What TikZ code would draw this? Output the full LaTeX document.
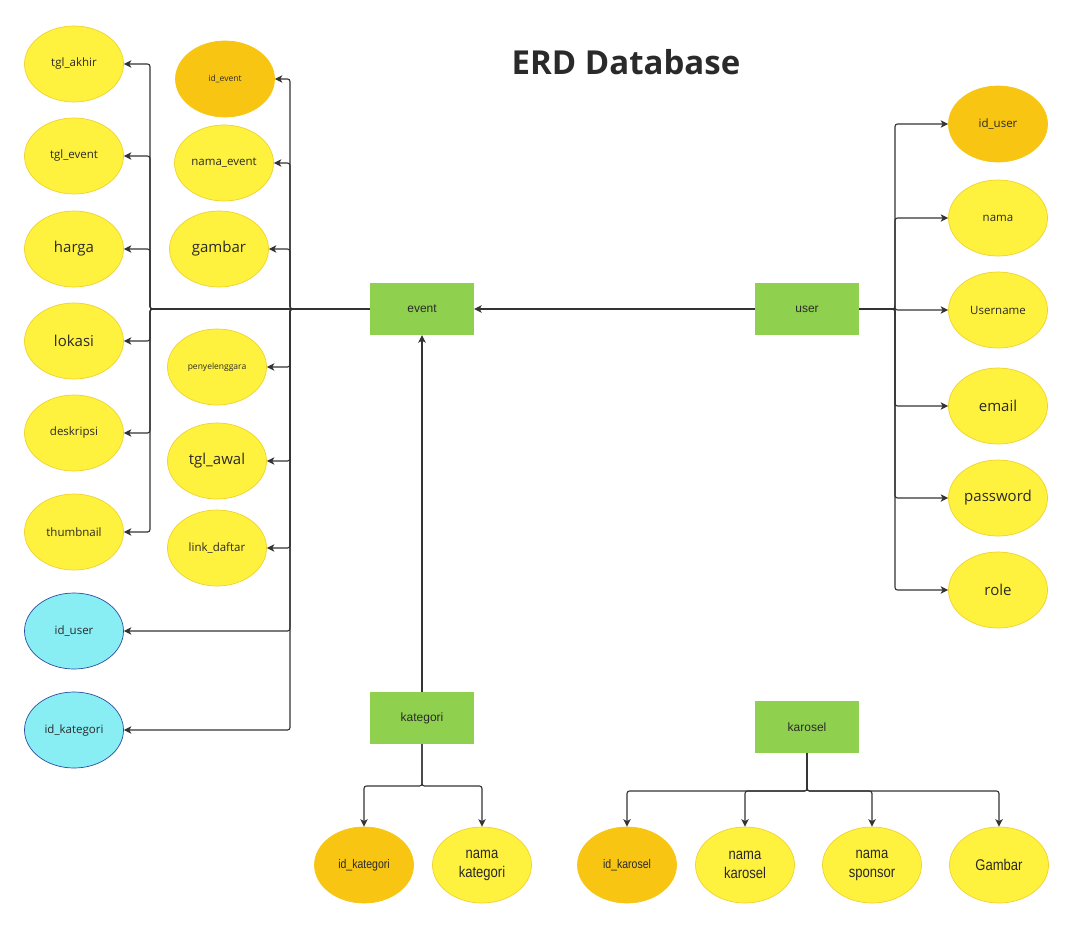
\documentclass[tikz,border=0pt]{standalone}
\usepackage{fontspec}
\setmainfont{Open Sans}
\newfontfamily\arialf{Liberation Sans}
\newfontfamily\narrowf[FakeStretch=0.84]{Liberation Sans}
\usetikzlibrary{shapes.geometric,arrows.meta}
\definecolor{attrfill}{HTML}{FFF23F}
\definecolor{attrline}{HTML}{EFD22A}
\definecolor{pkfill}{HTML}{F8C513}
\definecolor{fkfill}{HTML}{88EEF4}
\definecolor{fkline}{HTML}{2C4DA0}
\definecolor{entfill}{HTML}{8FD14F}
\definecolor{linec}{HTML}{333333}
\definecolor{textc}{HTML}{2A2A2A}
\tikzset{
  attr/.style={ellipse, draw=attrline, fill=attrfill, line width=0.7pt,
    minimum width=99pt, minimum height=76pt, inner sep=0pt, text=textc, align=center},
  pk/.style={attr, fill=pkfill, draw=pkfill},
  fk/.style={attr, fill=fkfill, draw=fkline},
  ent/.style={rectangle, fill=entfill, minimum width=104pt, minimum height=52pt,
    inner sep=0pt, text=textc, font=\arialf\fontsize{12}{14}\selectfont},
  fbig/.style={font=\fontsize{15}{18}\selectfont},
  fmid/.style={font=\fontsize{11.5}{14}\selectfont},
  fsmall/.style={font=\fontsize{8.5}{10}\selectfont},
  nbig/.style={font=\narrowf\fontsize{15.5}{19}\selectfont},
  nmid/.style={font=\narrowf\fontsize{12.5}{14}\selectfont},
  conn/.style={draw=linec, line width=1.1pt, -{Stealth[length=7.5pt,width=7.5pt,inset=2pt]}, rounded corners=2.5pt},
}
\begin{document}
\begin{tikzpicture}[x=1pt,y=-1pt]
\useasboundingbox[fill=white] (0,0) rectangle (1075,929);

\node[font=\bfseries\fontsize{33}{38}\selectfont, text=textc] (title) at (626,62) {ERD Database};

% entities
\node[ent] (event) at (422,309) {event};
\node[ent] (user) at (807,309) {user};
\node[ent] (kategori) at (422,718) {kategori};
\node[ent] (karosel) at (807,727) {karosel};

% event attributes, column A
\node[attr, fmid] (tglakhir) at (74,64) {tgl\_akhir};
\node[attr, fmid] (tglevent) at (74,156) {tgl\_event};
\node[attr, fbig] (harga) at (74,249) {harga};
\node[attr, fbig] (lokasi) at (74,341) {lokasi};
\node[attr, fmid] (deskripsi) at (74,433) {deskripsi};
\node[attr, fmid] (thumbnail) at (74,532) {thumbnail};
\node[fk, fmid] (fkuser) at (74,631) {id\_user};
\node[fk, fmid] (fkkat) at (74,730) {id\_kategori};

% event attributes, column B
\node[pk, fsmall] (idevent) at (225,79) {id\_event};
\node[attr, fmid] (namaevent) at (224,163) {nama\_event};
\node[attr, fbig] (gambar) at (219,249) {gambar};
\node[attr, fsmall] (penyelenggara) at (217,367) {penyelenggara};
\node[attr, fbig] (tglawal) at (217,461) {tgl\_awal};
\node[attr, fmid] (linkdaftar) at (217,548) {link\_daftar};

% user attributes
\node[pk, fmid] (iduser) at (998,124) {id\_user};
\node[attr, fmid] (nama) at (998,218) {nama};
\node[attr, fmid] (username) at (998,310) {Username};
\node[attr, fbig] (email) at (998,406) {email};
\node[attr, fbig] (password) at (998,498) {password};
\node[attr, fbig] (role) at (998,590) {role};

% kategori attributes
\node[pk, nmid] (idkat) at (364,865) {id\_kategori};
\node[attr, nbig] (namakat) at (482,865) {nama\\kategori};

% karosel attributes
\node[pk, nmid] (idkar) at (627,865) {id\_karosel};
\node[attr, nbig] (namakar) at (745,865) {nama\\karosel};
\node[attr, nbig] (sponsor) at (872,865) {nama\\sponsor};
\node[attr, nbig] (gambarkar) at (999,865) {Gambar};

% connectors: event -> column A
\foreach \t in {tglakhir,tglevent,harga,lokasi,deskripsi,thumbnail}
  \draw[conn] (event.west) -- (150,309) |- (\t.east);
% connectors: event -> column B and foreign keys
\foreach \t in {idevent,namaevent,gambar,penyelenggara,tglawal,linkdaftar,fkuser,fkkat}
  \draw[conn] (event.west) -- (290,309) |- (\t.east);

% user -> event
\draw[conn] (user.west) -- (event.east);
% user -> attributes
\foreach \t in {iduser,nama,username,email,password,role}
  \draw[conn] (user.east) -- (895,309) |- (\t.west);

% kategori -> event
\draw[conn] (kategori.north) -- (event.south);
\foreach \t in {idkat,namakat}
  \draw[conn] (kategori.south) -- (422,786) -| (\t.north);

% karosel -> attributes
\foreach \t in {idkar,namakar,sponsor,gambarkar}
  \draw[conn] (karosel.south) -- (807,791) -| (\t.north);
\end{tikzpicture}
\end{document}
